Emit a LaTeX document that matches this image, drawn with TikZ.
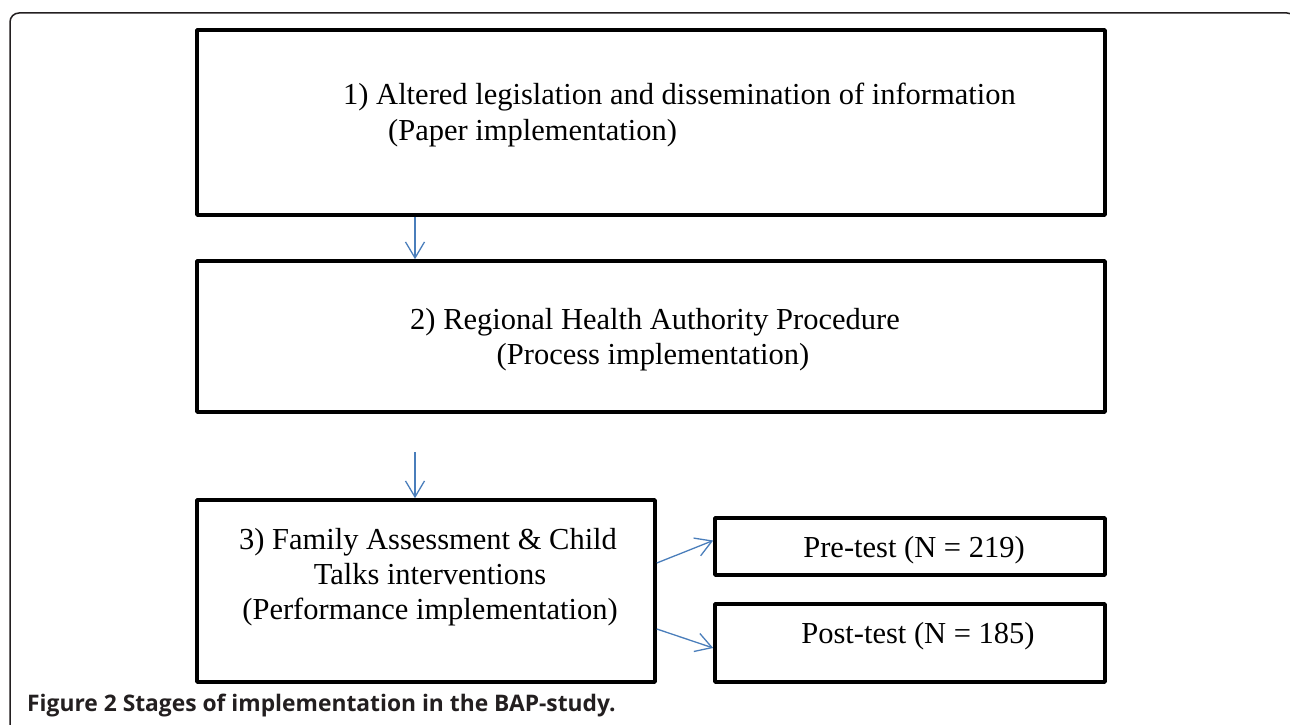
\documentclass[tikz,border=0pt]{standalone}
\usepackage{fontspec}
\setmainfont{Liberation Serif}
\newfontfamily\capfont{Open Sans}
\usetikzlibrary{arrows.meta}
\definecolor{arrowblue}{HTML}{4A7EBB}
\definecolor{framegray}{HTML}{231F20}
\begin{document}
\begin{tikzpicture}[x=1pt,y=-1pt,
  box/.style={draw=black,line width=3.6pt,line join=round,rectangle,inner sep=0pt},
  txt/.style={anchor=base,inner sep=0pt,font=\fontsize{30.5}{35}\selectfont},
  conn/.style={draw=arrowblue,line width=1.3pt,-{Straight Barb[length=16pt,width=19pt,line width=1.3pt]}}]
\useasboundingbox (0,0) rectangle (1290,725);
% outer frame
\draw[framegray,line width=1.5pt,rounded corners=9pt] (10,780) -- (10,13) -- (1296,13) -- (1296,780);
% boxes
\node[box,minimum width=908pt,minimum height=185pt] (b1) at (651,122.5) {};
\node[box,minimum width=908pt,minimum height=151pt] (b2) at (651,336.5) {};
\node[box,minimum width=458pt,minimum height=182pt] (b3) at (426,591) {};
\node[box,minimum width=390pt,minimum height=57pt] (pre) at (910,546.5) {};
\node[box,minimum width=390pt,minimum height=78pt] (post) at (910,643) {};
% texts
\node[txt,anchor=base west] (t1a) at (343,104) {1)\ Altered legislation and dissemination of information};
\node[txt,anchor=base west] (t1b) at (388,140) {(Paper implementation)};
\node[txt] (t2a) at (655,329) {2) Regional Health Authority Procedure};
\node[txt] (t2b) at (653,364) {(Process implementation)};
\node[txt] (t3a) at (428,549) {3) Family Assessment \& Child};
\node[txt] (t3b) at (430,584) {Talks interventions};
\node[txt] (t3c) at (430,619) {(Performance implementation)};
\node[txt] (tpre) at (914,557) {Pre-test (N = 219)};
\node[txt] (tpost) at (918,643) {Post-test (N = 185)};
% caption
\node[anchor=base west,inner sep=0pt,font=\capfont\bfseries\fontsize{22.8}{26}\selectfont,text=framegray] (cap) at (27,711) {Figure 2 Stages of implementation in the BAP-study.};
% connectors
\coordinate (a2s) at (415,452);
\draw[conn] (b1.south -| a2s) -- (b2.north -| a2s);
\draw[conn] (a2s) -- (b3.north -| a2s);
\draw[conn] ([yshift=28pt]b3.east) -- ([yshift=6pt]pre.west);
\draw[conn] ([yshift=-38pt]b3.east) -- ([yshift=-5pt]post.west);
\end{tikzpicture}
\end{document}
